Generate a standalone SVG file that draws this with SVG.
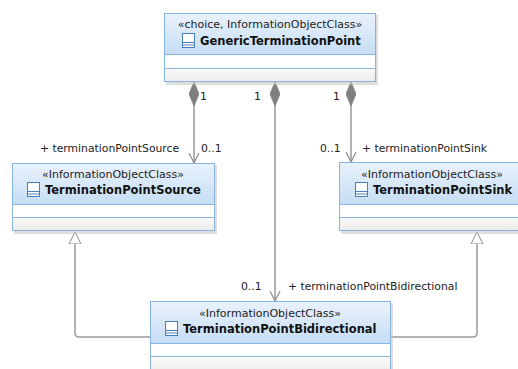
<svg xmlns="http://www.w3.org/2000/svg" width="518" height="369" viewBox="0 0 518 369">
<defs>
<linearGradient id="hdr" x1="0" y1="0" x2="0" y2="1">
<stop offset="0" stop-color="#e9f2fc"/>
<stop offset="1" stop-color="#c6ddf4"/>
</linearGradient>
<linearGradient id="ops" x1="0" y1="0" x2="0" y2="1">
<stop offset="0" stop-color="#fafafa"/>
<stop offset="1" stop-color="#ececec"/>
</linearGradient>
<marker id="open" markerWidth="12" markerHeight="12" refX="10" refY="5" orient="auto" markerUnits="userSpaceOnUse" viewBox="0 0 12 10">
<path d="M0,0 L10,5 L0,10" fill="none" stroke="#8c8c8c" stroke-width="1.2"/>
</marker>
<marker id="diam" markerWidth="24" markerHeight="10" refX="0" refY="5" orient="auto" markerUnits="userSpaceOnUse" viewBox="0 0 24 10">
<path d="M0,5 L12,0 L24,5 L12,10 Z" fill="#7f7f7f" stroke="#7f7f7f" stroke-width="0.8"/>
</marker>
<marker id="gen" markerWidth="14" markerHeight="14" refX="12" refY="6" orient="auto" markerUnits="userSpaceOnUse" viewBox="0 0 14 12">
<path d="M0,0 L12,6 L0,12 Z" fill="#ffffff" stroke="#8c8c8c" stroke-width="1"/>
</marker>
<g id="icon">
<rect x="0.5" y="0.5" width="12" height="14" fill="#ffffff" stroke="#4a7fb8" stroke-width="1"/>
<line x1="0.5" y1="9.5" x2="12.5" y2="9.5" stroke="#4a7fb8"/>
<line x1="0.5" y1="12" x2="12.5" y2="12" stroke="#4a7fb8"/>
</g>
</defs>
<style>
.box{fill:#ffffff;stroke:#86b3e0;stroke-width:1}
.hdr{fill:url(#hdr);stroke:#86b3e0;stroke-width:1}
.ops{fill:url(#ops);stroke:#86b3e0;stroke-width:1}
.shadow{fill:#c8c8c8;opacity:0.6}
.st{font-family:"DejaVu Sans",Verdana,sans-serif;font-size:11px;fill:#222;text-anchor:middle}
.nm{font-family:"DejaVu Sans",Verdana,sans-serif;font-size:11.5px;font-weight:bold;fill:#111}
.lb{font-family:"DejaVu Sans",Verdana,sans-serif;font-size:10.8px;fill:#222}
.ln{fill:none;stroke:#9a9a9a;stroke-width:1.5}
</style>
<rect width="518" height="369" fill="#ffffff"/>

<g id="connectors">
<path class="ln" d="M194,82 V163" marker-start="url(#diam)" marker-end="url(#open)"/>
<path class="ln" d="M275,82 V301" marker-start="url(#diam)" marker-end="url(#open)"/>
<path class="ln" d="M351,82 V162" marker-start="url(#diam)" marker-end="url(#open)"/>
<path class="ln" d="M150,337 H79 Q75,337 75,333 V232" marker-end="url(#gen)"/>
<path class="ln" d="M391,337 H473 Q477,337 477,333 V232" marker-end="url(#gen)"/>
<text class="lb" x="200" y="100">1</text>
<text class="lb" x="254" y="100">1</text>
<text class="lb" x="333" y="100">1</text>
<text class="lb" x="40" y="152">+ terminationPointSource</text>
<text class="lb" x="201" y="152">0..1</text>
<text class="lb" x="320" y="152">0..1</text>
<text class="lb" x="362" y="152">+ terminationPointSink</text>
<text class="lb" x="241" y="290">0..1</text>
<text class="lb" x="288" y="290">+ terminationPointBidirectional</text>
</g>

<g id="GenericTerminationPoint">
<rect class="shadow" x="166" y="15" width="212" height="70"/>
<rect class="hdr" x="164.5" y="13.5" width="211" height="41"/>
<rect class="box" x="164.5" y="54.5" width="211" height="14"/>
<rect class="ops" x="164.5" y="68.5" width="211" height="13"/>
<text class="st" x="270" y="28">«choice, InformationObjectClass»</text>
<use href="#icon" x="182" y="33"/>
<text class="nm" x="200" y="45">GenericTerminationPoint</text>
</g>

<g id="TerminationPointSource">
<rect class="shadow" x="14" y="165" width="203" height="69"/>
<rect class="hdr" x="12.5" y="163.5" width="202" height="41"/>
<rect class="box" x="12.5" y="204.5" width="202" height="13"/>
<rect class="ops" x="12.5" y="217.5" width="202" height="13"/>
<text class="st" x="113" y="178">«InformationObjectClass»</text>
<use href="#icon" x="27" y="182"/>
<text class="nm" x="45" y="194">TerminationPointSource</text>
</g>

<g id="TerminationPointSink">
<rect class="shadow" x="341" y="164" width="190" height="70"/>
<rect class="hdr" x="339.5" y="162.5" width="190" height="42"/>
<rect class="box" x="339.5" y="204.5" width="190" height="13"/>
<rect class="ops" x="339.5" y="217.5" width="190" height="13"/>
<text class="st" x="432" y="178">«InformationObjectClass»</text>
<use href="#icon" x="355" y="182"/>
<text class="nm" x="373" y="194">TerminationPointSink</text>
</g>

<g id="TerminationPointBidirectional">
<rect class="shadow" x="152" y="303" width="241" height="72"/>
<rect class="hdr" x="150.5" y="301.5" width="240" height="42"/>
<rect class="box" x="150.5" y="343.5" width="240" height="13"/>
<rect class="ops" x="150.5" y="356.5" width="240" height="16"/>
<text class="st" x="270" y="317">«InformationObjectClass»</text>
<use href="#icon" x="165" y="321"/>
<text class="nm" x="183" y="333">TerminationPointBidirectional</text>
</g>
</svg>
